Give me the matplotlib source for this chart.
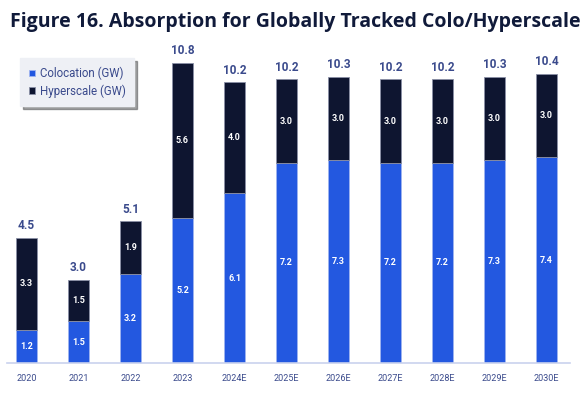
import matplotlib
matplotlib.use("Agg")
import matplotlib.pyplot as plt
import numpy as np

categories = ["2020", "2021", "2022", "2023", "2024E", "2025E", "2026E", "2027E", "2028E", "2029E", "2030E"]
colocation = [1.2, 1.5, 3.2, 5.2, 6.1, 7.2, 7.3, 7.2, 7.2, 7.3, 7.4]
hyperscale = [3.3, 1.5, 1.9, 5.6, 4.0, 3.0, 3.0, 3.0, 3.0, 3.0, 3.0]
totals = [4.5, 3.0, 5.1, 10.8, 10.2, 10.2, 10.3, 10.2, 10.2, 10.3, 10.4]

BLUE = "#2358E0"
NAVY = "#0E1530"
LABEL = "#3A4A8C"

W, H = 581, 397
fig = plt.figure(figsize=(W / 100, H / 100), dpi=100)
base_y = 363
ppu = 27.8
ymax = 12
top_px = base_y - ymax * ppu
ax = fig.add_axes([7 / W, (H - base_y) / H, (570 - 7) / W, (base_y - top_px) / H])

x = np.arange(len(categories))
bw = 0.41
ax.bar(x, colocation, bw, color=BLUE, edgecolor="#9FB4F0", linewidth=0.6, label="Colocation (GW)")
ax.bar(x, hyperscale, bw, bottom=colocation, color=NAVY, edgecolor="#8A90A6", linewidth=0.6, label="Hyperscale (GW)")

for i in range(len(categories)):
    ax.text(x[i], colocation[i] / 2, f"{colocation[i]:.1f}", ha="center", va="center",
            color="white", fontsize=6.5, family="Roboto", fontweight="bold")
    ax.text(x[i], colocation[i] + hyperscale[i] / 2, f"{hyperscale[i]:.1f}", ha="center", va="center",
            color="white", fontsize=6.5, family="Roboto", fontweight="bold")
    ax.annotate(f"{totals[i]:.1f}", (x[i], colocation[i] + hyperscale[i]), xytext=(0, 4),
                textcoords="offset points", ha="center", va="bottom",
                color=LABEL, fontsize=8.5, family="Roboto", fontweight="bold")

ax.set_xlim(-0.375, 10.45)
ax.set_ylim(0, ymax)
ax.set_xticks(x)
ax.set_xticklabels(categories, fontsize=6.5, family="Roboto", color=LABEL)
ax.tick_params(axis="x", length=0, pad=8)
ax.set_yticks([])
for s in ["top", "right", "left"]:
    ax.spines[s].set_visible(False)
ax.spines["bottom"].set_color("#C9D2EE")
ax.spines["bottom"].set_linewidth(1.2)

aw = 570 - 7
ah = base_y - top_px
leg = ax.legend(loc="upper left", bbox_to_anchor=((20 - 7) / aw, 1 - (58 - top_px) / ah),
                frameon=True, fancybox=False, shadow=True, handlelength=0.55, handleheight=0.55,
                prop={"family": "Roboto", "size": 8.3}, labelcolor=LABEL, borderpad=0.75,
                handletextpad=0.4, labelspacing=0.35, borderaxespad=0)
fr = leg.get_frame()
fr.set_facecolor("#EEF0F5")
fr.set_edgecolor("#EEF0F5")

fig.text(10 / W, 1 - 22 / H, "Figure 16. Absorption for Globally Tracked Colo/Hyperscale",
         ha="left", va="center", fontsize=14, family="Open Sans", fontweight="bold", color="#101A3A")

fig.savefig("out.png", dpi=100)
